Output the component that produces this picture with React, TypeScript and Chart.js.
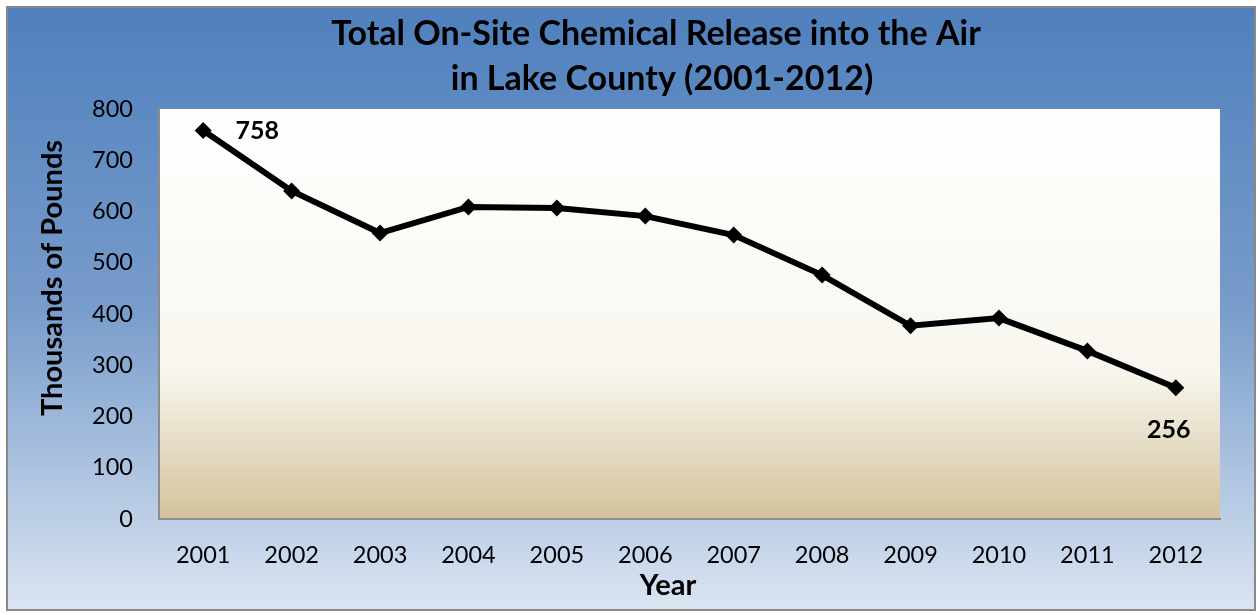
import React, { useEffect, useRef } from "react";
import { Chart, registerables } from "chart.js";

Chart.register(...registerables);

const years = ["2001", "2002", "2003", "2004", "2005", "2006", "2007", "2008", "2009", "2010", "2011", "2012"];
const releases = [758, 640, 558, 609, 607, 591, 554, 476, 377, 392, 328, 256];
const yTickValues = [0, 100, 200, 300, 400, 500, 600, 700, 800];
const titleLines = ["Total On-Site Chemical Release into the Air", "in Lake County (2001-2012)"];
const yAxisTitle = "Thousands of Pounds";
const xAxisTitle = "Year";
const labelledPoints = [
  { index: 0, dx: 54, dy: 8 },
  { index: 11, dx: -7, dy: 50 },
];

const W = 1250;
const H = 605;
const FONT = "Lato, 'Open Sans', sans-serif";

const decorPlugin = {
  id: "decor",
  beforeDraw(chart: any) {
    const { ctx, chartArea } = chart;
    ctx.save();
    const g = ctx.createLinearGradient(0, 0, 0, H);
    g.addColorStop(0, "#4f80bd");
    g.addColorStop(0.5, "#789ccb");
    g.addColorStop(1, "#dbe5f2");
    ctx.fillStyle = g;
    ctx.fillRect(0, 0, W, H);
    ctx.strokeStyle = "#888888";
    ctx.lineWidth = 2;
    ctx.strokeRect(1, 1, W - 2, H - 2);

    const { left, top, right, bottom } = chartArea;
    const pg = ctx.createLinearGradient(0, top, 0, bottom);
    pg.addColorStop(0, "#ffffff");
    pg.addColorStop(0.64, "#f8f6ee");
    pg.addColorStop(1, "#d3c29b");
    ctx.fillStyle = pg;
    ctx.fillRect(left, top, right - left, bottom - top);
    ctx.restore();
  },
  afterDatasetsDraw(chart: any) {
    const { ctx } = chart;
    const meta = chart.getDatasetMeta(0);
    ctx.save();
    ctx.fillStyle = "#000";
    ctx.font = `bold 25px ${FONT}`;
    ctx.textAlign = "center";
    ctx.textBaseline = "alphabetic";
    labelledPoints.forEach((p) => {
      const el = meta.data[p.index];
      ctx.fillText(String(releases[p.index]), el.x + p.dx, el.y + p.dy);
    });
    ctx.restore();
  },
  afterDraw(chart: any) {
    const { ctx } = chart;
    ctx.save();
    ctx.fillStyle = "#000";
    ctx.textAlign = "center";
    ctx.textBaseline = "alphabetic";
    ctx.font = `bold 34px ${FONT}`;
    ctx.fillText(titleLines[0], 650, 39);
    ctx.fillText(titleLines[1], 656, 84);

    ctx.font = `bold 29px ${FONT}`;
    ctx.fillText(xAxisTitle, 662, 589);

    ctx.translate(56, 272);
    ctx.rotate(-Math.PI / 2);
    ctx.fillText(yAxisTitle, 0, 0);
    ctx.restore();
  },
};

export default function App() {
  const ref = useRef<HTMLCanvasElement | null>(null);

  useEffect(() => {
    if (!ref.current) return;
    const chart = new Chart(ref.current, {
      type: "line",
      data: {
        labels: years,
        datasets: [
          {
            label: "Total On-Site Release",
            data: releases,
            borderColor: "#000000",
            backgroundColor: "#000000",
            borderWidth: 6,
            pointStyle: "rectRot",
            pointRadius: 8.5,
            pointBackgroundColor: "#000000",
            pointBorderWidth: 0,
            tension: 0,
            clip: false as any,
          },
        ],
      },
      options: {
        responsive: false,
        animation: false,
        devicePixelRatio: 1,
        layout: { padding: { top: 103, right: 36, left: 0, bottom: 0 } },
        plugins: {
          legend: { display: false },
          title: { display: false },
          tooltip: { enabled: false },
        },
        scales: {
          x: {
            type: "category",
            offset: true,
            grid: { display: false, drawTicks: false },
            border: { display: true, color: "#8c8c8c", width: 2 },
            ticks: {
              color: "#000",
              font: { family: FONT, size: 23.5 },
              padding: 22,
              maxRotation: 0,
              autoSkip: false,
            },
            afterFit(scale: any) {
              scale.height = 92;
            },
          },
          y: {
            type: "linear",
            min: 0,
            max: 800,
            grid: { display: false, drawTicks: false },
            border: { display: true, color: "#8c8c8c", width: 2 },
            ticks: {
              color: "#000",
              font: { family: FONT, size: 23.5 },
              padding: 26,
              stepSize: 100,
            },
            afterBuildTicks(scale: any) {
              scale.ticks = yTickValues.map((v) => ({ value: v }));
            },
            afterFit(scale: any) {
              scale.width = 153;
            },
          },
        },
      },
      plugins: [decorPlugin],
    });
    return () => chart.destroy();
  }, []);

  return (
    <div style={{ position: "absolute", left: 6, top: 6, width: W, height: H }}>
      <canvas ref={ref} width={W} height={H} style={{ width: W, height: H, display: "block" }} />
    </div>
  );
}
